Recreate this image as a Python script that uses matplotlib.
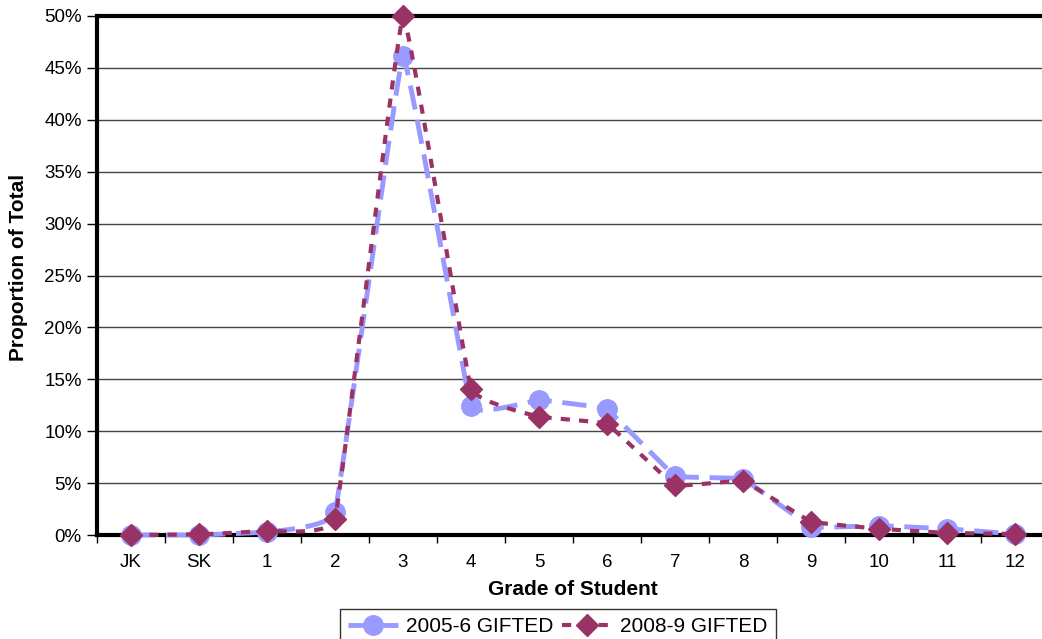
import numpy as np
import matplotlib
matplotlib.use("Agg")
import matplotlib.pyplot as plt
from matplotlib.lines import Line2D

grades = ["JK", "SK", "1", "2", "3", "4", "5", "6", "7", "8", "9", "10", "11", "12"]
gifted_2005 = [0.0, 0.0, 0.3, 2.2, 46.1, 12.4, 13.0, 12.1, 5.7, 5.4, 0.8, 0.9, 0.6, 0.1]
gifted_2008 = [0.0, 0.05, 0.4, 1.5, 50.0, 14.1, 11.4, 10.7, 4.8, 5.2, 1.3, 0.6, 0.2, 0.1]

blue = "#9999FF"
maroon = "#993366"

plt.rcParams['font.family'] = ['Liberation Sans', 'DejaVu Sans']


def smooth(xs, ys, c=0.1, n=20):
    # cardinal spline through the points, a mild version of the spreadsheet smoothing
    xs = np.asarray(xs, float)
    ys = np.asarray(ys, float)
    px = np.concatenate([[xs[0]], xs, [xs[-1]]])
    py = np.concatenate([[ys[0]], ys, [ys[-1]]])
    outx, outy = [], []
    t = np.linspace(0, 1, n, endpoint=False)
    h00 = 2 * t ** 3 - 3 * t ** 2 + 1
    h10 = t ** 3 - 2 * t ** 2 + t
    h01 = -2 * t ** 3 + 3 * t ** 2
    h11 = t ** 3 - t ** 2
    for i in range(1, len(px) - 2):
        for p, out in ((px, outx), (py, outy)):
            m1 = c * (p[i + 1] - p[i - 1])
            m2 = c * (p[i + 2] - p[i])
            out.extend(h00 * p[i] + h10 * m1 + h01 * p[i + 1] + h11 * m2)
    outx.append(xs[-1])
    outy.append(ys[-1])
    return np.array(outx), np.array(outy)


fig = plt.figure(figsize=(10.42, 6.39), dpi=100)
ax = fig.add_axes([97 / 1042, 1 - 535 / 639, (1049 - 97) / 1042, (535 - 16) / 639])

x = np.arange(len(grades))

sx, sy = smooth(x, gifted_2005)
ax.plot(sx, sy, color=blue, lw=3.5, dashes=(5, 2.2), zorder=3, clip_on=False)
ax.plot(x, gifted_2005, 'o', color=blue, ms=14, zorder=4, clip_on=False)

sx, sy = smooth(x, gifted_2008)
ax.plot(sx, sy, color=maroon, lw=3, dashes=(2.2, 2.2), zorder=5, clip_on=False)
ax.plot(x, gifted_2008, 'D', color=maroon, ms=11.5, zorder=6, clip_on=False)

ax.set_xlim(-0.5, len(grades) - 0.5)
ax.set_ylim(0, 50)
ax.set_yticks(np.arange(0, 51, 5))
ax.set_yticklabels([f"{v}%" for v in range(0, 51, 5)])
ax.set_xticks(x)
ax.set_xticklabels(grades)
ax.set_xticks(np.arange(-0.5, len(grades), 1), minor=True)
ax.tick_params(axis='x', which='major', length=0, labelsize=13.5, pad=14)
ax.tick_params(axis='x', which='minor', length=6, width=1)
ax.tick_params(axis='y', length=7, width=1, labelsize=13.5, pad=4)

ax.grid(axis='y', color='#444444', lw=1)
ax.set_axisbelow(True)
for side in ('left', 'bottom', 'top'):
    ax.spines[side].set_linewidth(3)
ax.spines['right'].set_visible(False)

ax.set_xlabel("Grade of Student", fontsize=15, fontweight='bold', labelpad=6)
fig.text(19 / 1042, 1 - 267 / 639, "Proportion of Total", rotation=90,
         fontsize=15, fontweight='bold', ha='center', va='center')

handles = [
    Line2D([], [], color=blue, lw=3.5, dashes=(5, 2.2), marker='o', ms=14),
    Line2D([], [], color=maroon, lw=3, dashes=(2.2, 2.2), marker='D', ms=11.5),
]
leg = fig.legend(handles, ["2005-6 GIFTED", "2008-9 GIFTED"], ncol=2,
                 loc='upper center', bbox_to_anchor=(558 / 1042, 1 - 609 / 639),
                 frameon=True, fancybox=False, fontsize=15, handlelength=2.4,
                 borderpad=0.4, columnspacing=0.4, handletextpad=0.4,
                 borderaxespad=0)
leg.get_frame().set_edgecolor('black')
leg.get_frame().set_linewidth(1)

fig.savefig("out.png", dpi=100)
